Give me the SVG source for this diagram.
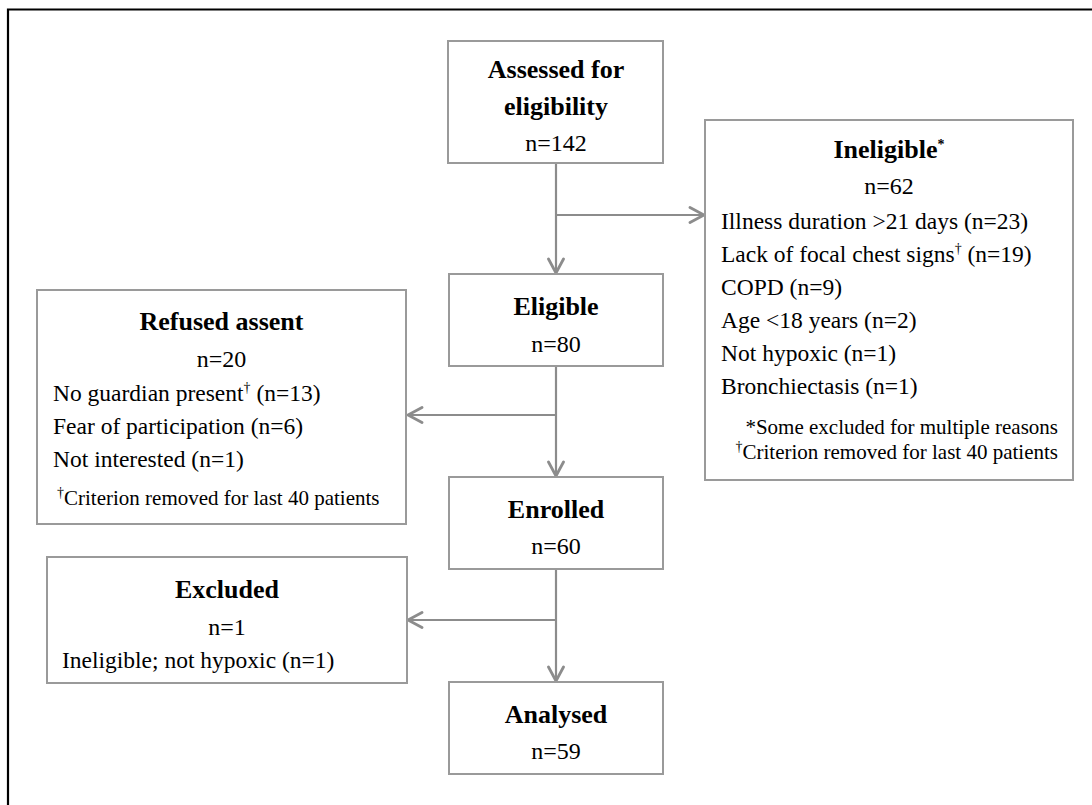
<svg xmlns="http://www.w3.org/2000/svg" width="1092" height="805" viewBox="0 0 1092 805">
<style>
  .box { fill: #ffffff; stroke: #9a9a9a; stroke-width: 2; }
  .frame { fill: none; stroke: #000000; stroke-width: 2.2; }
  .conn { fill: none; stroke: #8c8c8c; stroke-width: 2.2; }
  text { font-family: "Liberation Serif", "Times New Roman", serif; fill: #000000; }
  .h { font-size: 26px; font-weight: bold; text-anchor: middle; }
  .n { font-size: 24px; text-anchor: middle; }
  .t { font-size: 23.5px; }
  .f { font-size: 21px; }
  .fr { font-size: 21px; text-anchor: end; }
  .sup { font-size: 14px; }
</style>
<defs>
  <marker id="arr" markerUnits="userSpaceOnUse" viewBox="0 0 18 18" refX="16" refY="9" markerWidth="18" markerHeight="18" orient="auto">
    <path d="M2,1.5 L16,9 L2,16.5" fill="none" stroke="#8c8c8c" stroke-width="2.8" stroke-linecap="round" stroke-linejoin="miter"/>
  </marker>
</defs>
<rect width="1092" height="805" fill="#ffffff"/>
<path class="frame" d="M8,806 L8,9.5 L1093,9.5"/>

<g id="connectors">
  <line class="conn" x1="556" y1="163" x2="556" y2="273" marker-end="url(#arr)"/>
  <line class="conn" x1="556" y1="215" x2="704" y2="215" marker-end="url(#arr)"/>
  <line class="conn" x1="556" y1="366" x2="556" y2="476" marker-end="url(#arr)"/>
  <line class="conn" x1="556" y1="415" x2="408" y2="415" marker-end="url(#arr)"/>
  <line class="conn" x1="556" y1="569" x2="556" y2="681" marker-end="url(#arr)"/>
  <line class="conn" x1="556" y1="620" x2="408" y2="620" marker-end="url(#arr)"/>
</g>

<g id="assessed">
  <rect class="box" x="448" y="41" width="215" height="122"/>
  <text class="h" x="556" y="78">Assessed for</text>
  <text class="h" x="556" y="115">eligibility</text>
  <text class="n" x="556" y="151">n=142</text>
</g>

<g id="ineligible">
  <rect class="box" x="705" y="120" width="368" height="360"/>
  <text class="h" x="889" y="158">Ineligible<tspan class="sup" dy="-9">*</tspan></text>
  <text class="n" x="889" y="194">n=62</text>
  <text class="t" x="721" y="229">Illness duration &gt;21 days (n=23)</text>
  <text class="t" x="721" y="262">Lack of focal chest signs<tspan class="sup" dy="-9">†</tspan><tspan dy="9"> (n=19)</tspan></text>
  <text class="t" x="721" y="295">COPD (n=9)</text>
  <text class="t" x="721" y="328">Age &lt;18 years (n=2)</text>
  <text class="t" x="721" y="361">Not hypoxic (n=1)</text>
  <text class="t" x="721" y="394">Bronchiectasis (n=1)</text>
  <text class="fr" x="1058" y="434">*Some excluded for multiple reasons</text>
  <text class="fr" x="1058" y="459"><tspan class="sup" dy="-8">†</tspan><tspan dy="8">Criterion removed for last 40 patients</tspan></text>
</g>

<g id="eligible">
  <rect class="box" x="449" y="274" width="214" height="92"/>
  <text class="h" x="556" y="315">Eligible</text>
  <text class="n" x="556" y="352">n=80</text>
</g>

<g id="refused">
  <rect class="box" x="37" y="290" width="369" height="234"/>
  <text class="h" x="221.5" y="330">Refused assent</text>
  <text class="n" x="221.5" y="367">n=20</text>
  <text class="t" x="53" y="401">No guardian present<tspan class="sup" dy="-9">†</tspan><tspan dy="9"> (n=13)</tspan></text>
  <text class="t" x="53" y="434">Fear of participation (n=6)</text>
  <text class="t" x="53" y="467">Not interested (n=1)</text>
  <text class="f" x="57" y="505"><tspan class="sup" dy="-8">†</tspan><tspan dy="8">Criterion removed for last 40 patients</tspan></text>
</g>

<g id="enrolled">
  <rect class="box" x="449" y="477" width="214" height="92"/>
  <text class="h" x="556" y="518">Enrolled</text>
  <text class="n" x="556" y="554">n=60</text>
</g>

<g id="excluded">
  <rect class="box" x="47" y="557" width="360" height="126"/>
  <text class="h" x="227" y="598">Excluded</text>
  <text class="n" x="227" y="635">n=1</text>
  <text class="t" x="62" y="668">Ineligible; not hypoxic (n=1)</text>
</g>

<g id="analysed">
  <rect class="box" x="449" y="682" width="214" height="92"/>
  <text class="h" x="556" y="723">Analysed</text>
  <text class="n" x="556" y="759">n=59</text>
</g>
</svg>
